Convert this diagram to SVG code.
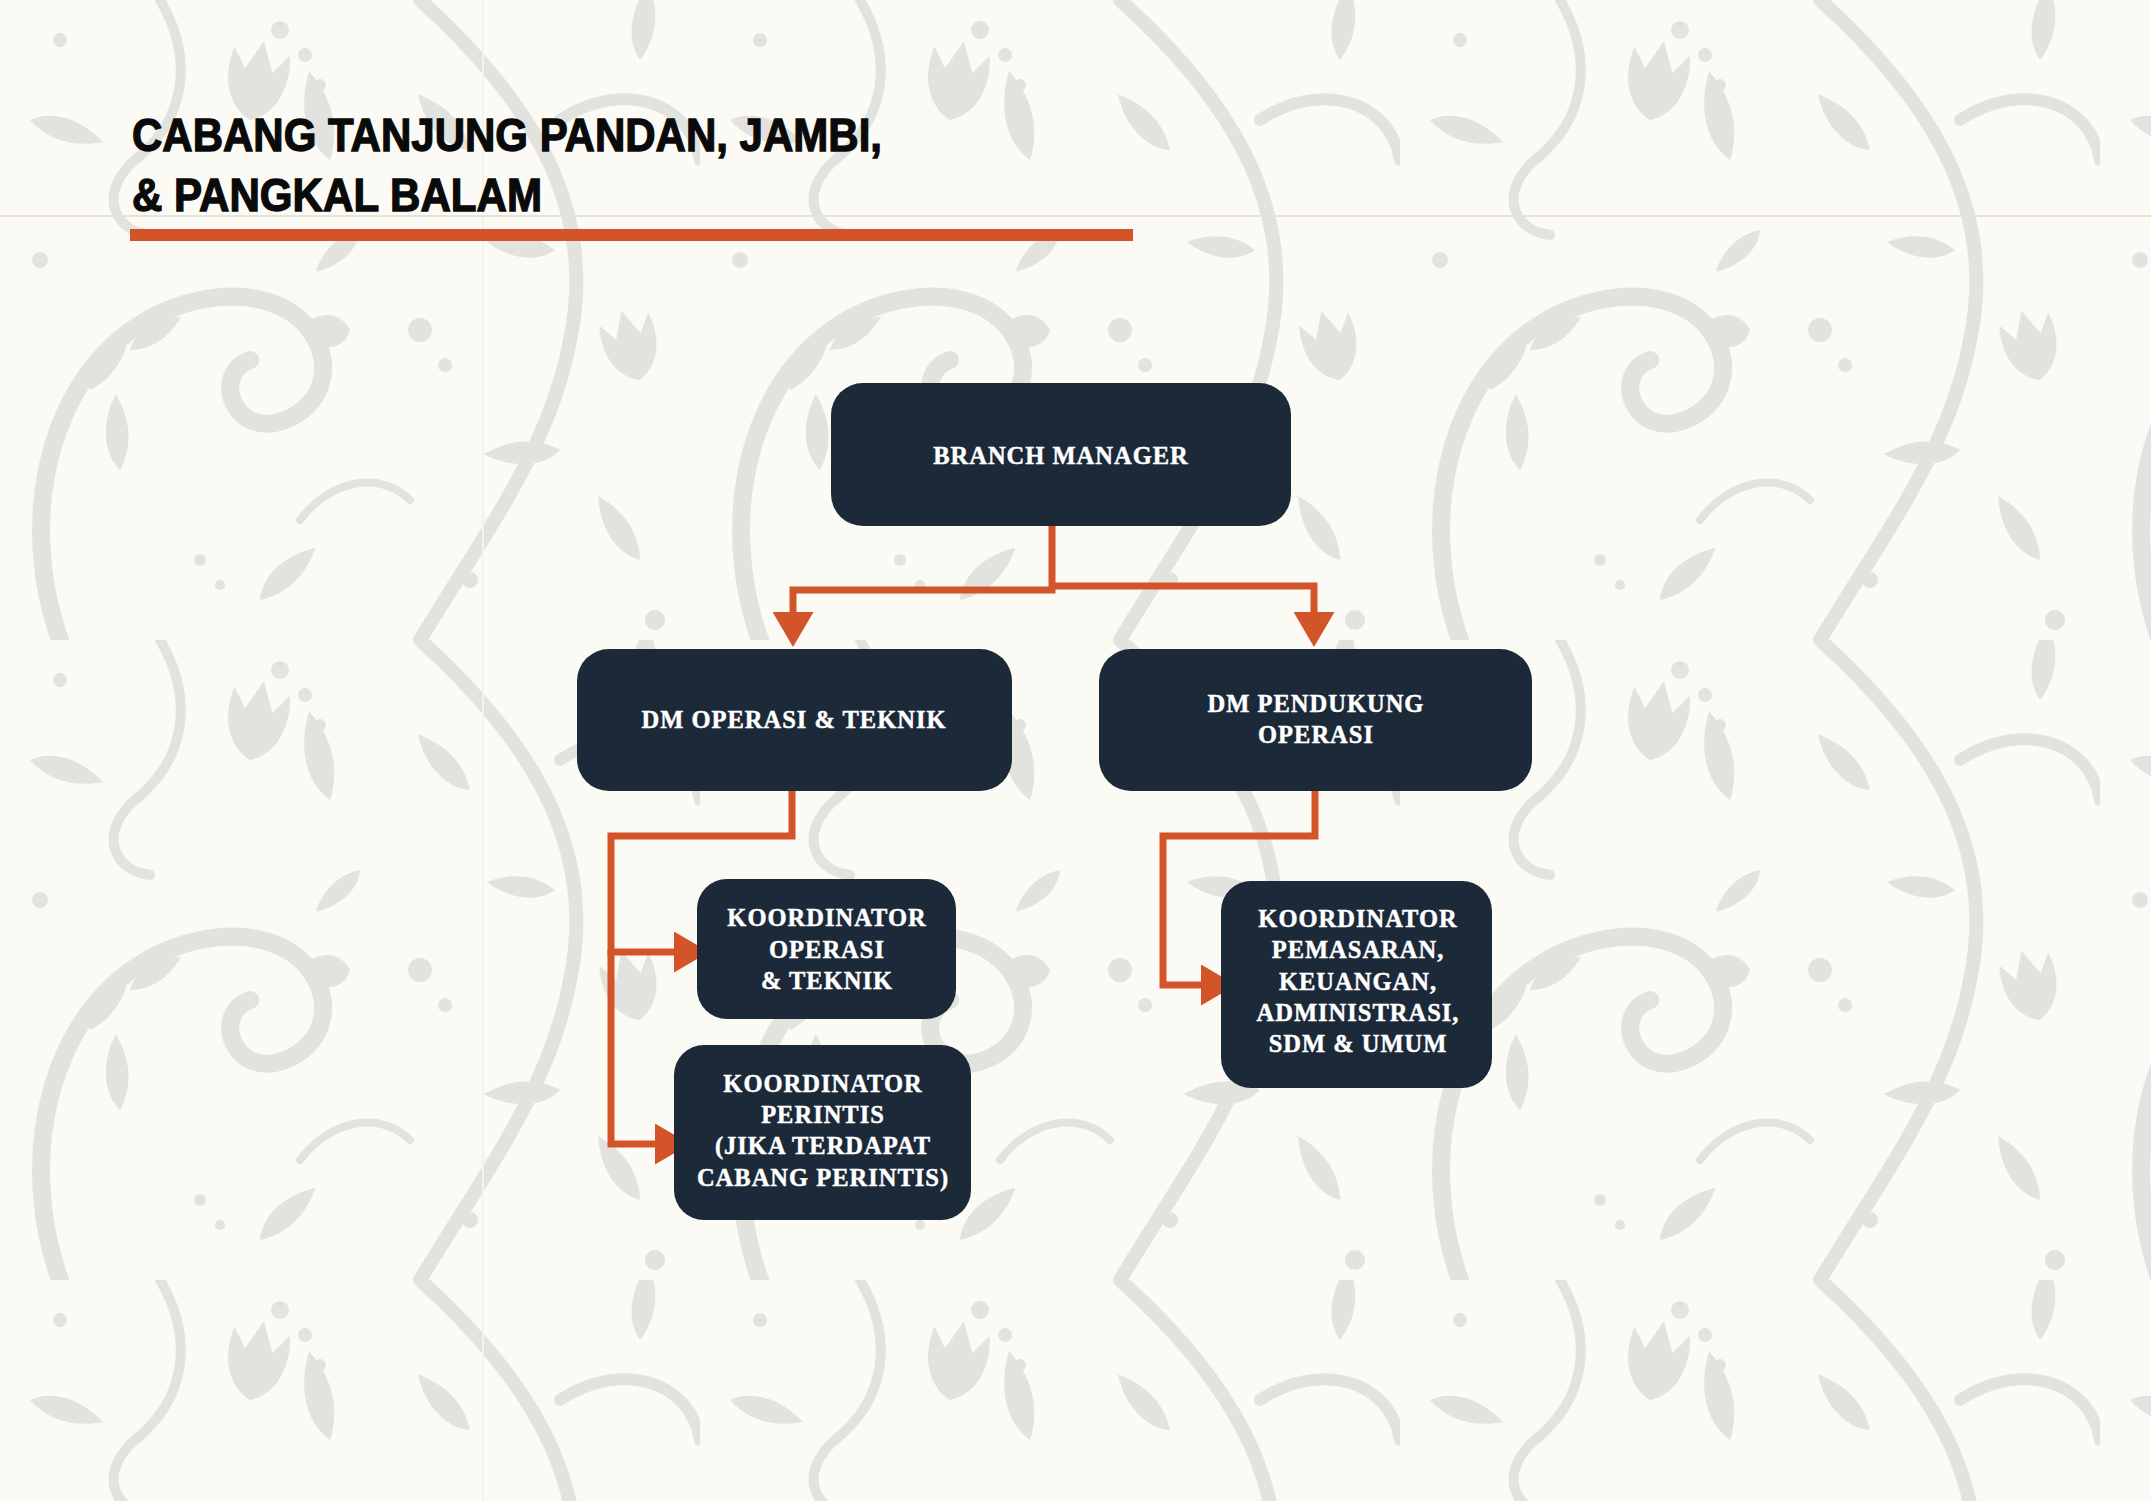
<svg xmlns="http://www.w3.org/2000/svg" width="2151" height="1501" viewBox="0 0 2151 1501">
<defs>
<style>
.node rect{fill:#1c2939;}
.node text{fill:#ffffff;stroke:#ffffff;stroke-width:0.45px;font-family:"Liberation Serif","DejaVu Serif",serif;font-weight:bold;font-size:24.5px;letter-spacing:1px;text-anchor:middle;}
.conn path{fill:none;stroke:#d35428;stroke-width:7;stroke-linejoin:miter;stroke-linecap:butt;}
.title{font-family:"Liberation Sans","DejaVu Sans",sans-serif;font-weight:bold;font-size:46px;fill:#0a0a0a;stroke:#0a0a0a;stroke-width:1.3px;}
.orn{fill:#e2e3df;}
.ornS{fill:none;stroke:#e2e3df;stroke-linecap:round;}
</style>
<marker id="arr" viewBox="0 0 35 41" refX="0" refY="20.5" markerWidth="35" markerHeight="41" markerUnits="userSpaceOnUse" orient="auto">
<path d="M0,0 L35,20.5 L0,41 Z" fill="#d35428"/>
</marker>
<path id="leaf" d="M0,0 C10,-22 38,-34 70,-30 C52,-8 28,4 0,0 Z"/>
<path id="tulip" d="M0,0 C-25,-10 -35,-40 -28,-70 L-14,-50 L0,-80 L14,-50 L28,-70 C35,-40 25,-10 0,0 Z"/>
<pattern id="damask" x="0" y="0" width="700" height="640" patternUnits="userSpaceOnUse">
<path class="ornS" stroke-width="18" d="M60,640 C10,500 60,330 200,300 C320,275 360,390 285,420 C235,440 210,375 250,360"/>
<path class="ornS" stroke-width="16" d="M60,0 C10,-140 60,-310 200,-340" transform="translate(0,640)"/>
<path class="ornS" stroke-width="14" d="M420,0 C520,90 600,200 570,340 C550,450 480,540 420,640"/>
<path class="ornS" stroke-width="12" d="M560,120 C620,80 690,100 700,160"/>
<path class="ornS" stroke-width="10" d="M160,0 C195,60 185,120 135,160 C100,190 110,230 150,235"/>
<path class="ornS" stroke-width="8" d="M300,520 C330,480 380,470 410,500"/>
<g class="orn">
<use href="#leaf" transform="translate(120,470) rotate(-70)"/>
<use href="#leaf" transform="translate(90,390) rotate(-35)"/>
<use href="#leaf" transform="translate(130,350) rotate(-10) scale(0.8)"/>
<use href="#leaf" transform="translate(470,150) rotate(-110)"/>
<use href="#leaf" transform="translate(555,250) rotate(-150) scale(0.9)"/>
<use href="#leaf" transform="translate(560,450) rotate(200)"/>
<use href="#leaf" transform="translate(640,60) rotate(-60)"/>
<use href="#leaf" transform="translate(260,600) rotate(-20)"/>
<use href="#leaf" transform="translate(30,120) rotate(40)"/>
<use href="#leaf" transform="translate(330,160) rotate(-80) scale(1.2)"/>
<use href="#leaf" transform="translate(360,230) rotate(160) scale(0.8)"/>
<use href="#leaf" transform="translate(640,560) rotate(-100)"/>
<use href="#tulip" transform="translate(250,120) rotate(10)"/>
<use href="#tulip" transform="translate(640,380) rotate(-15) scale(0.9)"/>
<circle cx="280" cy="30" r="9"/><circle cx="305" cy="55" r="7"/><circle cx="320" cy="85" r="6"/>
<circle cx="470" cy="580" r="8"/><circle cx="60" cy="40" r="7"/><circle cx="655" cy="620" r="10"/>
<circle cx="420" cy="330" r="12"/><circle cx="445" cy="365" r="7"/><circle cx="40" cy="260" r="8"/>
<circle cx="200" cy="560" r="6"/><circle cx="220" cy="585" r="5"/>
<path d="M300,330 C315,310 340,310 350,330 C345,350 320,355 300,330 Z"/>
</g>
</pattern>
</defs>
<g id="background">
<rect x="0" y="0" width="2151" height="1501" fill="#fbfaf4"/>
<rect x="0" y="0" width="2151" height="1501" fill="url(#damask)"/>
<rect x="482" y="0" width="2" height="1501" fill="#f4f2e9"/>
<rect x="0" y="215" width="2151" height="2" fill="#e6e2d5"/>
</g>
<g id="title">
<text class="title" x="132" y="151" textLength="750" lengthAdjust="spacingAndGlyphs">CABANG TANJUNG PANDAN, JAMBI,</text>
<text class="title" x="132" y="211" textLength="410" lengthAdjust="spacingAndGlyphs">&amp; PANGKAL BALAM</text>
<rect x="130" y="229" width="1003" height="12" fill="#d35428"/>
</g>
<g id="connectors" class="conn">
<path d="M1052,526 V590 H793 V612" marker-end="url(#arr)"/>
<path d="M1049,586 H1314 V612" marker-end="url(#arr)"/>
<path d="M792,791 V836 H611 V952 H674" marker-end="url(#arr)"/>
<path d="M611,950 V1144 H655" marker-end="url(#arr)"/>
<path d="M1315,791 V836 H1163 V985 H1201" marker-end="url(#arr)"/>
</g>
<g id="node-branch-manager" class="node">
<rect x="831" y="383" width="460" height="143" rx="32"/>
<text x="1061" y="464">BRANCH MANAGER</text>
</g>
<g id="node-dm-operasi" class="node">
<rect x="577" y="649" width="435" height="142" rx="32"/>
<text x="794" y="728">DM OPERASI &amp; TEKNIK</text>
</g>
<g id="node-dm-pendukung" class="node">
<rect x="1099" y="649" width="433" height="142" rx="32"/>
<text x="1316" y="712">DM PENDUKUNG</text>
<text x="1316" y="743">OPERASI</text>
</g>
<g id="node-koord-operasi" class="node">
<rect x="697" y="879" width="259" height="140" rx="30"/>
<text x="827" y="926">KOORDINATOR</text>
<text x="827" y="958">OPERASI</text>
<text x="827" y="989">&amp; TEKNIK</text>
</g>
<g id="node-koord-perintis" class="node">
<rect x="674" y="1045" width="297" height="175" rx="30"/>
<text x="823" y="1092">KOORDINATOR</text>
<text x="823" y="1123">PERINTIS</text>
<text x="823" y="1154">(JIKA TERDAPAT</text>
<text x="823" y="1186">CABANG PERINTIS)</text>
</g>
<g id="node-koord-pemasaran" class="node">
<rect x="1221" y="881" width="271" height="207" rx="30"/>
<text x="1358" y="927">KOORDINATOR</text>
<text x="1358" y="958">PEMASARAN,</text>
<text x="1358" y="990">KEUANGAN,</text>
<text x="1358" y="1021">ADMINISTRASI,</text>
<text x="1358" y="1052">SDM &amp; UMUM</text>
</g>
</svg>
